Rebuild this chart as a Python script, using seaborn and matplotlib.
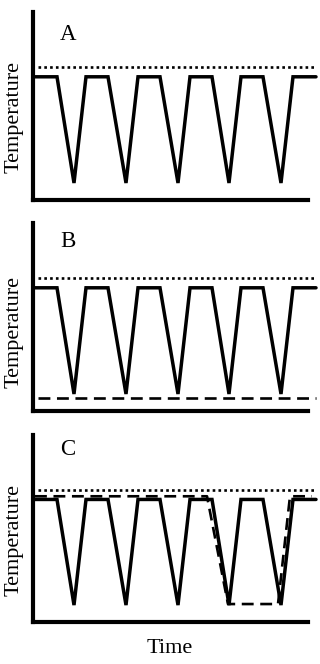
import numpy as np
import pandas as pd
import matplotlib
matplotlib.use("Agg")
import matplotlib.pyplot as plt
import seaborn as sns

# ---- data (time in arbitrary units, temperature normalised: plateau=1, trough=0)
cycle_time = [1, 24, 41, 53, 75, 93, 105, 127, 145, 157, 179, 196, 208, 230, 248, 260, 283]
cycle_temp = [1, 1, 0, 1, 1, 0, 1, 1, 0, 1, 1, 0, 1, 1, 0, 1, 1]

upper_time = [5, 283]
upper_temp = [1.09, 1.09]

lower_time = [5, 283]
lower_temp = [-0.04, -0.04]

shift_time = [2, 174, 195, 245, 257, 279]
shift_temp = [1.03, 1.03, 0.01, 0.01, 1.03, 1.03]

panel_labels = ["A", "B", "C"]
y_label = "Temperature"
x_label = "Time"

sns.set_style("white")
plt.rcParams["font.family"] = ["Liberation Serif", "DejaVu Serif"]
plt.rcParams["text.color"] = "black"
plt.rcParams["axes.labelcolor"] = "black"

W, H = 320, 664
fig = plt.figure(figsize=(W / 100, H / 100), dpi=100)

# pixel boxes: (left, top, bottom)
boxes = [(33, 12, 200), (33, 223, 411), (33, 435, 622)]
right = 318
label_y = [0.878, 0.90, 0.92]
ylab_y = [0.44, 0.42, 0.44]

for i, (l, t, b) in enumerate(boxes):
    ax = fig.add_axes([l / W, 1 - b / H, (right - l) / W, (b - t) / H])
    ax.set_xlim(0, right - l)
    ax.set_ylim(-0.16, 1.61)
    df = pd.DataFrame({"time": cycle_time, "temp": cycle_temp})
    sns.lineplot(data=df, x="time", y="temp", ax=ax, color="black", lw=2.5,
                 sort=False, estimator=None, solid_joinstyle="miter")
    sns.lineplot(x=upper_time, y=upper_temp, ax=ax, color="black", lw=1.9,
                 linestyle=(0, (1, 1.2)), estimator=None)
    if i == 1:
        sns.lineplot(x=lower_time, y=lower_temp, ax=ax, color="black", lw=1.9,
                     linestyle=(0, (4.5, 2.5)), estimator=None)
    if i == 2:
        sns.lineplot(x=shift_time, y=shift_temp, ax=ax, color="black", lw=1.9,
                     linestyle=(0, (4.5, 2.5)), estimator=None, sort=False)
    for s in ["top", "right"]:
        ax.spines[s].set_visible(False)
    for s in ["left", "bottom"]:
        ax.spines[s].set_linewidth(3)
        ax.spines[s].set_color("black")
        ax.spines[s].set_capstyle("projecting")
    ax.spines["bottom"].set_bounds(0, 275)
    ax.set_xticks([])
    ax.set_yticks([])
    ax.set_ylabel(y_label, fontsize=16, color="black")
    ax.yaxis.set_label_coords(-0.032, ylab_y[i])
    ax.text(0.123, label_y[i], panel_labels[i], transform=ax.transAxes,
            fontsize=16.5, ha="center", va="center", color="black")
    if i == 2:
        ax.set_xlabel(x_label, fontsize=16, color="black")
        ax.xaxis.set_label_coords(0.48, -0.09)
    else:
        ax.set_xlabel("")

fig.savefig("out.png", dpi=100)
